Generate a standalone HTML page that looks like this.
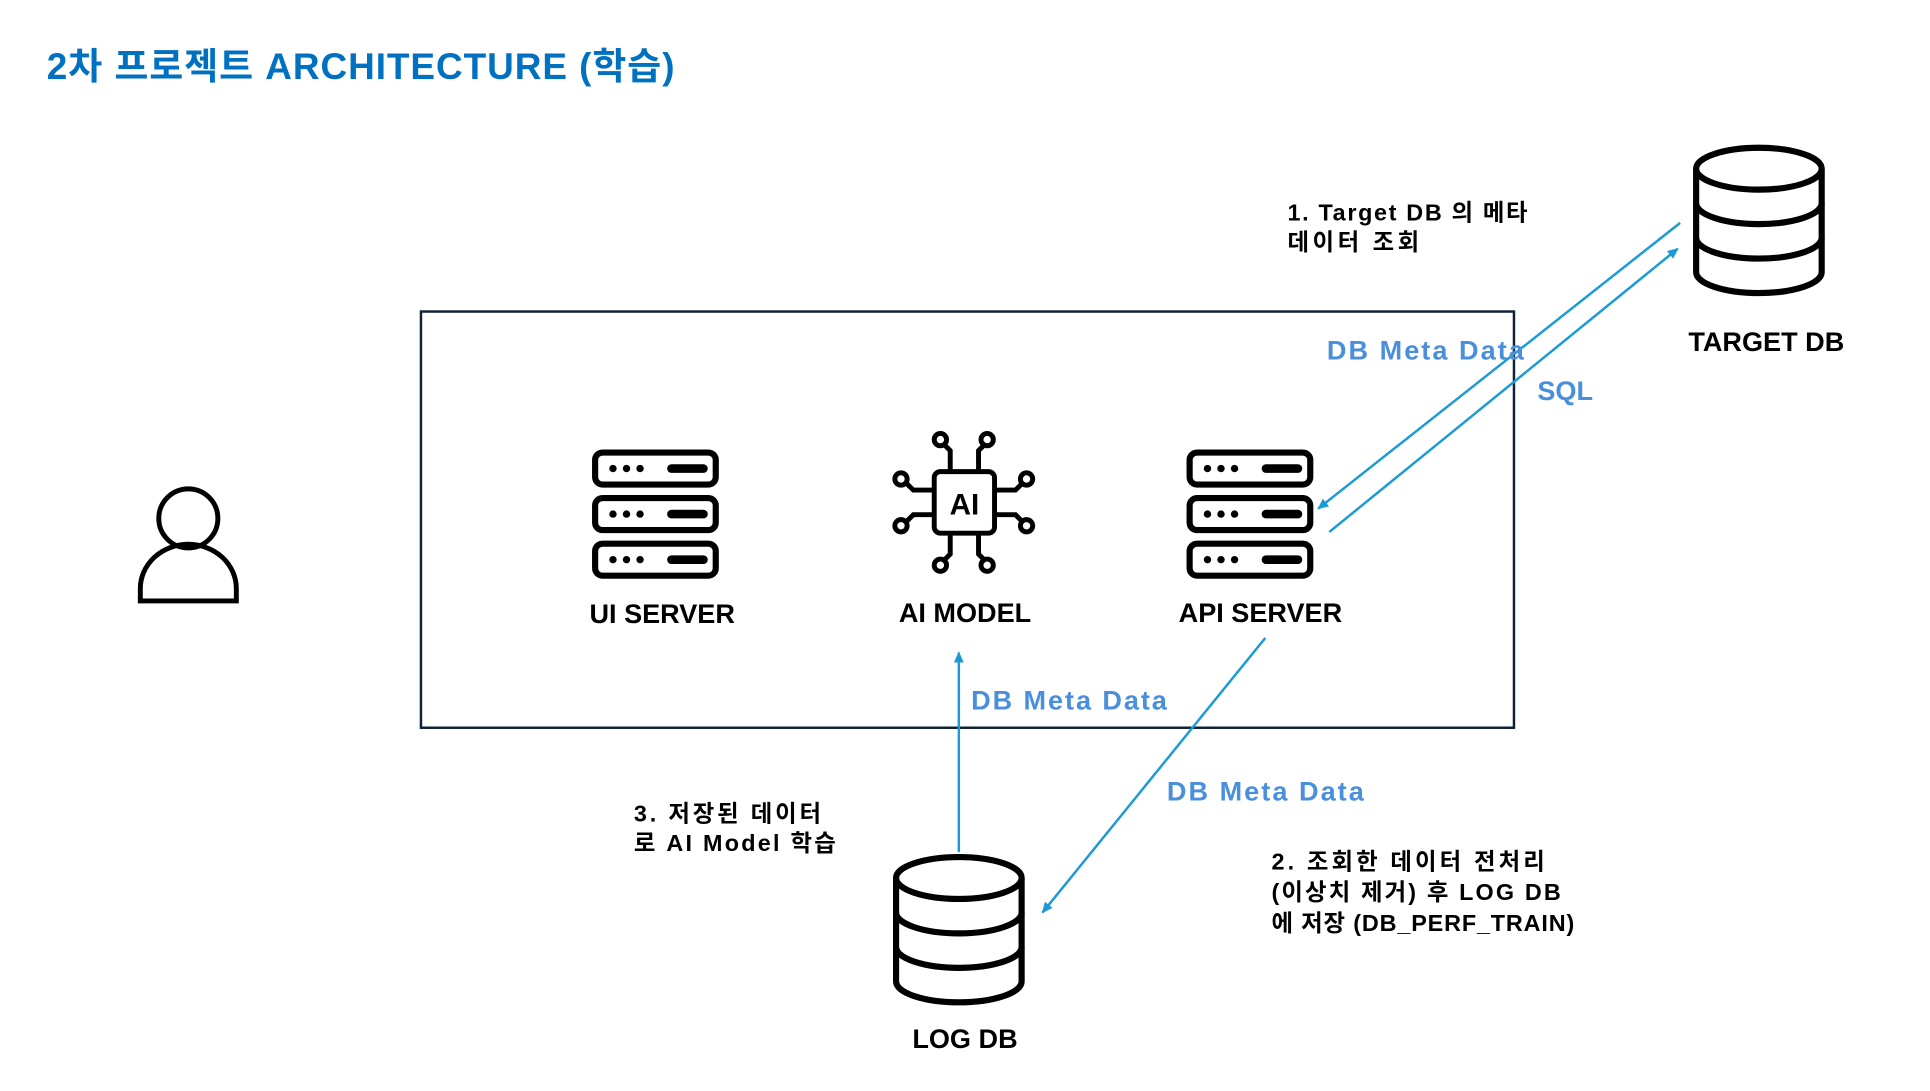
<!DOCTYPE html>
<html><head><meta charset="utf-8"><style>
html,body{margin:0;padding:0;background:#fff;}
svg{display:block;}
text{font-family:"Liberation Sans","Noto Sans CJK KR",sans-serif;font-weight:bold;}
</style></head><body>
<svg width="1930" height="1091" viewBox="0 0 1568 886" preserveAspectRatio="none" xmlns="http://www.w3.org/2000/svg">
<defs>
<marker id="ah" markerWidth="10" markerHeight="10" refX="8" refY="5" orient="auto" markerUnits="userSpaceOnUse">
<path d="M0,1 L9,5 L0,9 Z" fill="#1a9ad6"/></marker>
<g id="srv" fill="none" stroke="#000" stroke-width="5">
<rect x="2.5" y="2.5" width="98" height="26" rx="6"/>
<rect x="2.5" y="39.5" width="98" height="26" rx="6"/>
<rect x="2.5" y="76.5" width="98" height="26" rx="6"/>
<g fill="#000" stroke="none">
<circle cx="17" cy="15.5" r="3"/><circle cx="28" cy="15.5" r="3"/><circle cx="39" cy="15.5" r="3"/>
<rect x="61" y="12" width="33" height="7" rx="3.5"/>
<circle cx="17" cy="52.5" r="3"/><circle cx="28" cy="52.5" r="3"/><circle cx="39" cy="52.5" r="3"/>
<rect x="61" y="49" width="33" height="7" rx="3.5"/>
<circle cx="17" cy="89.5" r="3"/><circle cx="28" cy="89.5" r="3"/><circle cx="39" cy="89.5" r="3"/>
<rect x="61" y="86" width="33" height="7" rx="3.5"/>
</g></g>
<g id="cyl" fill="none" stroke="#000" stroke-width="5">
<ellipse cx="53" cy="20" rx="51" ry="17"/>
<path d="M2,20 V104 A51,17 0 0 0 104,104 V20"/>
<path d="M2,48 A51,17 0 0 0 104,48"/>
<path d="M2,76 A51,17 0 0 0 104,76"/>
</g>
</defs>

<text x="38" y="64" font-size="30" fill="#0070C0" textLength="510">2차 프로젝트 ARCHITECTURE (학습)</text>

<rect x="342" y="253" width="888" height="338" fill="none" stroke="#0d2236" stroke-width="2"/>

<circle cx="153" cy="421" r="24" fill="none" stroke="#000" stroke-width="4"/>
<path d="M114,488 V478 A39,36 0 0 1 192,478 V488 Z" fill="none" stroke="#000" stroke-width="4"/>

<use href="#srv" x="481" y="365"/>
<use href="#srv" x="964" y="365"/>

<g fill="none" stroke="#000" stroke-width="4">
<rect x="759" y="383" width="49" height="50" rx="5"/>
<path d="M772,383 V366 L766,360 M795,383 V366 L801,360 M772,433 V450 L766,456 M795,433 V450 L801,456"/>
<path d="M759,398 H742 L736,392 M759,418 H742 L736,424 M808,398 H825 L831,392 M808,418 H825 L831,424"/>
<circle cx="764" cy="357" r="5"/><circle cx="802" cy="357" r="5"/>
<circle cx="764" cy="459" r="5"/><circle cx="802" cy="459" r="5"/>
<circle cx="732" cy="389" r="5"/><circle cx="834" cy="389" r="5"/>
<circle cx="732" cy="427" r="5"/><circle cx="834" cy="427" r="5"/>
</g>
<text x="783.5" y="418" font-size="24" text-anchor="middle" fill="#000" font-weight="normal">AI</text>

<text x="538" y="506" font-size="22" text-anchor="middle" fill="#000">UI SERVER</text>
<text x="784" y="505" font-size="22" text-anchor="middle" fill="#000">AI MODEL</text>
<text x="1024" y="505" font-size="22" text-anchor="middle" fill="#000">API SERVER</text>

<use href="#cyl" x="1376" y="117"/>
<text x="1435" y="285" font-size="22" text-anchor="middle" fill="#000">TARGET DB</text>
<use href="#cyl" x="726" y="693"/>
<text x="784" y="851" font-size="22" text-anchor="middle" fill="#000">LOG DB</text>

<g stroke="#1a9ad6" stroke-width="2" fill="none">
<line x1="1365" y1="181" x2="1071" y2="413" marker-end="url(#ah)"/>
<line x1="1080" y1="432" x2="1363" y2="202" marker-end="url(#ah)"/>
<line x1="779" y1="692" x2="779" y2="530" marker-end="url(#ah)"/>
<line x1="1028" y1="518" x2="847" y2="741" marker-end="url(#ah)"/>
</g>

<g fill="#4a8fdb" font-size="22">
<text x="1078" y="292" textLength="160">DB Meta Data</text>
<text x="1249" y="325">SQL</text>
<text x="789" y="576" textLength="159">DB Meta Data</text>
<text x="948" y="650" textLength="160">DB Meta Data</text>
</g>

<g fill="#000" font-size="19">
<text x="1046" y="179" textLength="195">1. Target DB 의 메타</text>
<text x="1046" y="203" textLength="107">데이터 조회</text>
<text x="515" y="667" textLength="152">3. 저장된 데이터</text>
<text x="515" y="691" textLength="164">로 AI Model 학습</text>
<text x="1033" y="706" textLength="222">2. 조회한 데이터 전처리</text>
<text x="1033" y="731" textLength="235">(이상치 제거) 후 LOG DB</text>
<text x="1033" y="756" textLength="246">에 저장 (DB_PERF_TRAIN)</text>
</g>
</svg>
</body></html>
